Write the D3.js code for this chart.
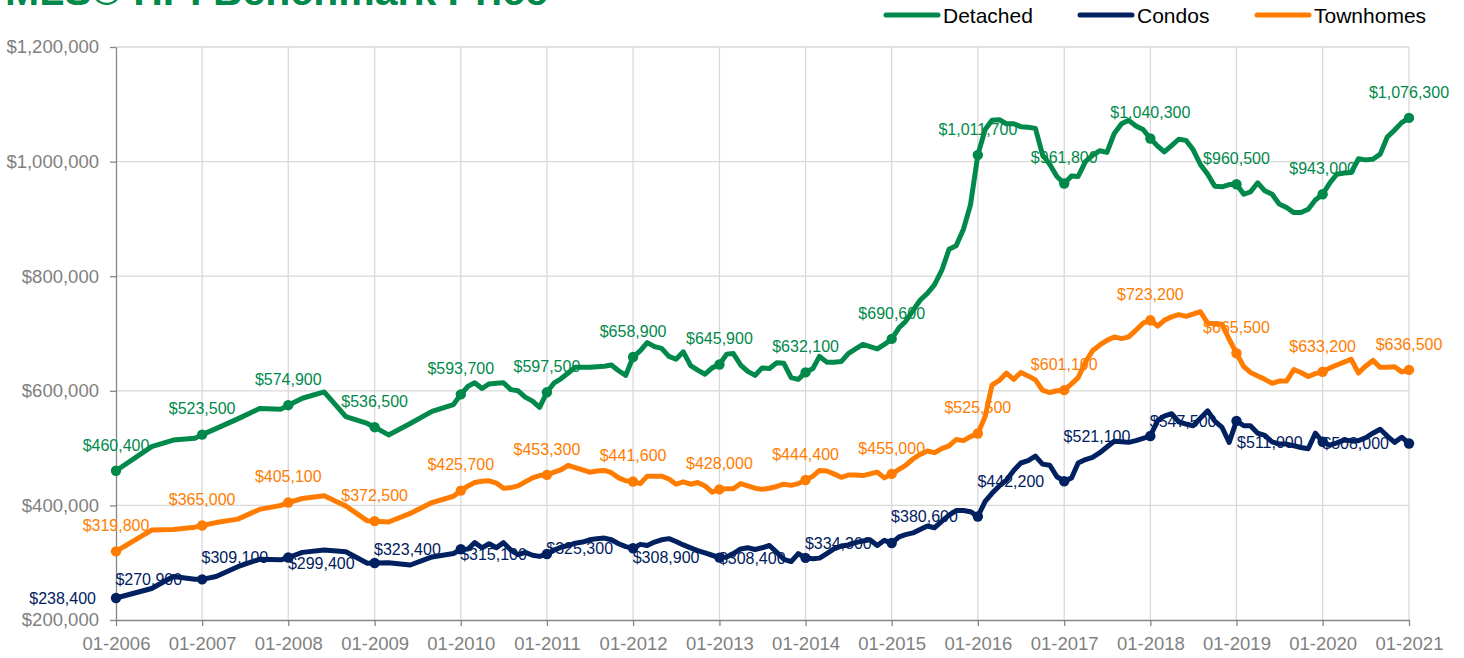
<!DOCTYPE html>
<html>
<head>
<meta charset="utf-8">
<script src="https://cdn.jsdelivr.net/npm/d3@7"></script>
<style>
  body { margin: 0; background: #fff; }
  text { font-family: "Liberation Sans", Arial, sans-serif; }
</style>
</head>
<body>
<div id="chart"></div>
<script>
// dates of the observations (quarterly-ish before 2010, monthly after)
const dates = [
  "2006-01", "2006-06", "2006-09", "2006-12",
  "2007-01", "2007-03", "2007-06", "2007-09", "2007-12",
  "2008-01", "2008-03", "2008-06", "2008-09", "2008-12",
  "2009-01", "2009-03", "2009-06", "2009-09", "2009-12",
  "2010-01", "2010-02", "2010-03", "2010-04", "2010-05", "2010-06", "2010-07", "2010-08", "2010-09", "2010-10", "2010-11", "2010-12",
  "2011-01", "2011-02", "2011-03", "2011-04", "2011-05", "2011-06", "2011-07", "2011-08", "2011-09", "2011-10", "2011-11", "2011-12",
  "2012-01", "2012-02", "2012-03", "2012-04", "2012-05", "2012-06", "2012-07", "2012-08", "2012-09", "2012-10", "2012-11", "2012-12",
  "2013-01", "2013-02", "2013-03", "2013-04", "2013-05", "2013-06", "2013-07", "2013-08", "2013-09", "2013-10", "2013-11", "2013-12",
  "2014-01", "2014-02", "2014-03", "2014-04", "2014-05", "2014-06", "2014-07", "2014-08", "2014-09", "2014-10", "2014-11", "2014-12",
  "2015-01", "2015-02", "2015-03", "2015-04", "2015-05", "2015-06", "2015-07", "2015-08", "2015-09", "2015-10", "2015-11", "2015-12",
  "2016-01", "2016-02", "2016-03", "2016-04", "2016-05", "2016-06", "2016-07", "2016-08", "2016-09", "2016-10", "2016-11", "2016-12",
  "2017-01", "2017-02", "2017-03", "2017-04", "2017-05", "2017-06", "2017-07", "2017-08", "2017-09", "2017-10", "2017-11", "2017-12",
  "2018-01", "2018-02", "2018-03", "2018-04", "2018-05", "2018-06", "2018-07", "2018-08", "2018-09", "2018-10", "2018-11", "2018-12",
  "2019-01", "2019-02", "2019-03", "2019-04", "2019-05", "2019-06", "2019-07", "2019-08", "2019-09", "2019-10", "2019-11", "2019-12",
  "2020-01", "2020-02", "2020-03", "2020-04", "2020-05", "2020-06", "2020-07", "2020-08", "2020-09", "2020-10", "2020-11", "2020-12",
  "2021-01"
];

// benchmark prices in thousands of dollars
const detached = [
  460.4, 502.5, 514, 517,
  523.5, 534, 551, 569, 568,
  574.9, 587, 598, 555, 543,
  536.5, 523, 543, 564, 576,
  593.7, 608, 614, 604, 612, 613, 614, 602, 600, 589, 582, 571,
  597.5, 614, 621, 631, 641, 641, 641, 642, 643, 645, 635, 627,
  658.9, 670, 684, 677, 674, 660, 655, 668, 644, 636, 629, 640,
  645.9, 664, 665, 645, 634, 627, 640, 639, 649, 648, 623, 620,
  632.1, 639, 660, 650, 650, 651, 665, 673, 681, 677, 673, 681,
  690.6, 710, 721, 740, 758, 770, 785, 810, 847, 853, 882, 925,
  1011.7, 1056, 1072, 1073, 1066, 1066, 1061, 1060, 1058, 1012, 995, 974,
  961.8, 975, 974, 1000, 1011, 1019, 1016, 1049, 1066, 1072, 1062, 1056,
  1040.3, 1027, 1017, 1028, 1039, 1037, 1021, 995, 978, 957, 956, 960,
  960.5, 943, 947, 963, 949, 943, 926, 920, 911, 911, 917, 933,
  943.0, 963, 978, 980, 981, 1005, 1003, 1004, 1013, 1043, 1055, 1068,
  1076.3
];

const condos = [
  238.4, 255, 276, 271,
  270.9, 276, 293, 306, 305,
  309.1, 318, 322, 319, 299,
  299.4, 300, 296, 310, 316,
  323.4, 324, 335, 326, 333, 326, 335, 322, 314, 318, 313, 311,
  315.1, 322, 327, 330, 334, 336, 340, 342, 343, 340, 333, 328,
  325.3, 332, 330, 336, 340, 342, 337, 331, 326, 321, 317, 313,
  308.9, 310, 316, 324, 326, 323, 326, 330, 318, 306, 302, 316,
  308.4, 307, 308, 316, 324, 329, 331, 335, 338, 340, 330, 339,
  334.3, 345, 349, 352, 358, 364, 361, 372, 383, 391, 391, 389,
  380.6, 407, 421, 434, 444, 461, 474, 478, 486, 472, 470, 450,
  442.2, 448, 474, 480, 484, 492, 502, 512, 511, 510, 513, 517,
  521.1, 548, 556, 560, 546, 542, 539, 552, 565, 547, 536, 510,
  547.5, 539, 539, 526, 522, 511, 507, 507, 504, 501, 499, 526,
  511.0, 505, 509, 514, 513, 513, 518, 526, 533, 521, 510, 519,
  508.0
];

const townhomes = [
  319.8, 357, 358, 362,
  365.0, 370, 376, 393, 400,
  405.1, 412, 417, 399, 373,
  372.5, 371, 386, 405, 416,
  425.7, 434, 440, 442, 443, 439, 430, 431, 434, 441, 448, 452,
  453.3, 458, 462, 470, 466, 462, 458, 460, 461, 457, 448, 443,
  441.6, 438, 451, 451, 451, 446, 437, 441, 437, 440, 434, 423,
  428.0, 429, 429, 438, 434, 430, 428, 430, 433, 437, 435, 438,
  444.4, 451, 461, 460, 455, 449, 453, 453, 452, 455, 458, 448,
  455.0, 463, 470, 481, 489, 495, 492, 499, 504, 515, 513, 520,
  525.5, 555, 610, 618, 631, 620, 632, 626, 619, 601, 597, 600,
  601.1, 612, 623, 650, 670, 680, 688, 694, 691, 694, 706, 718,
  723.2, 713, 723, 729, 733, 730, 734, 738, 718, 717, 716, 690,
  665.5, 642, 632, 626, 620, 613, 617, 617, 637, 632, 625, 630,
  633.2, 640, 645, 650, 655, 631, 643, 653, 641, 641, 642, 633,
  636.5
];

const seriesNames = ["Detached", "Condos", "Townhomes"];
const yTicks = [200, 400, 600, 800, 1000, 1200];
const yearTicks = d3.range(2006, 2022);

const colors = {Detached: "#00894a", Condos: "#002060", Townhomes: "#ff7c00"};

const W = 1464, H = 658;

const svg = d3.select("#chart")
    .append("svg")
    .attr("width", W)
    .attr("height", H);

const parseMonth = d3.timeParse("%Y-%m");

const x = d3.scaleTime()
    .domain([new Date(2006, 0, 1), new Date(2021, 0, 1)])
    .range([116, 1409]);

const y = d3.scaleLinear()
    .domain([200, 1200])
    .range([620, 47]);

const series = [
    {name: "Detached", values: detached},
    {name: "Condos", values: condos},
    {name: "Townhomes", values: townhomes}
].map(s => ({
    name: s.name,
    points: dates.map((d, i) => ({date: parseMonth(d), key: d, value: s.values[i]}))
}));

// gridlines
svg.append("g")
    .selectAll("line")
    .data(yTicks.slice(1))
    .join("line")
    .attr("x1", 116).attr("x2", 1409)
    .attr("y1", d => y(d)).attr("y2", d => y(d))
    .attr("stroke", "#d9d9d9")
    .attr("stroke-width", 1.3);

svg.append("g")
    .selectAll("line")
    .data(yearTicks.slice(1))
    .join("line")
    .attr("x1", d => x(new Date(d, 0, 1))).attr("x2", d => x(new Date(d, 0, 1)))
    .attr("y1", 47).attr("y2", 620)
    .attr("stroke", "#d9d9d9")
    .attr("stroke-width", 1.3);

// Y axis
const money = d3.format(",");
const yAxis = svg.append("g")
    .attr("transform", "translate(116,0)")
    .call(d3.axisLeft(y)
        .tickValues(yTicks)
        .tickSize(6)
        .tickSizeOuter(0)
        .tickPadding(11)
        .tickFormat(d => "$" + money(d * 1000)));

// X axis
const xAxis = svg.append("g")
    .attr("transform", "translate(0,620)")
    .call(d3.axisBottom(x)
        .tickValues(yearTicks.map(d => new Date(d, 0, 1)))
        .tickSize(6)
        .tickSizeOuter(0)
        .tickPadding(11)
        .tickFormat(d3.timeFormat("%m-%Y")));

[yAxis, xAxis].forEach(ax => {
    ax.select(".domain").attr("stroke", "#868686").attr("stroke-width", 1.3);
    ax.selectAll(".tick line").attr("stroke", "#868686").attr("stroke-width", 1.3);
    ax.selectAll(".tick text")
        .attr("fill", "#7f7f7f")
        .style("font-size", "18.5px")
        .style("font-family", "'Liberation Sans', Arial, sans-serif");
});

// data labels on each January point (drawn under the lines)
const fmtLabel = v => "$" + money(Math.round(v * 1000));
const labels = svg.append("g");
series.forEach(s => {
    const jan = s.points.filter(p => p.key.endsWith("-01"));
    const isCondo = s.name === "Condos";
    labels.selectAll(null)
        .data(jan)
        .join("text")
        .attr("x", d => isCondo ? x(d.date) - 20 : x(d.date))
        .attr("y", d => isCondo ? y(d.value) : y(d.value) - 26)
        .attr("dy", "0.36em")
        .attr("text-anchor", isCondo ? "end" : "middle")
        .attr("fill", colors[s.name])
        .style("font-size", "16px")
        .text(d => fmtLabel(d.value));
});

// lines
const line = d3.line()
    .x(d => x(d.date))
    .y(d => y(d.value));

series.forEach(s => {
    svg.append("path")
        .datum(s.points)
        .attr("fill", "none")
        .attr("stroke", colors[s.name])
        .attr("stroke-width", 5)
        .attr("stroke-linejoin", "round")
        .attr("stroke-linecap", "round")
        .attr("d", line);

    // markers on the labelled points
    svg.append("g")
        .selectAll("circle")
        .data(s.points.filter(p => p.key.endsWith("-01")))
        .join("circle")
        .attr("cx", d => x(d.date))
        .attr("cy", d => y(d.value))
        .attr("r", 5.2)
        .attr("fill", colors[s.name]);
});

// title (mostly cut off at the top, as in the original)
svg.append("text")
    .attr("x", 5)
    .attr("y", 5)
    .attr("fill", "#00894a")
    .style("font-size", "41px")
    .style("font-weight", "bold")
    .text("MLS® HPI Benchmark Price");

// legend
const legendX = [884, 1078, 1255];
const legend = svg.append("g")
    .selectAll("g")
    .data(seriesNames)
    .join("g")
    .attr("transform", (d, i) => "translate(" + legendX[i] + ",15)");

legend.append("line")
    .attr("x1", 2).attr("x2", 54)
    .attr("y1", 0).attr("y2", 0)
    .attr("stroke", d => colors[d])
    .attr("stroke-width", 5)
    .attr("stroke-linecap", "round");

legend.append("text")
    .attr("x", 59)
    .attr("dy", "0.36em")
    .attr("fill", "#000")
    .style("font-size", "21px")
    .text(d => d);
</script>
</body>
</html>
